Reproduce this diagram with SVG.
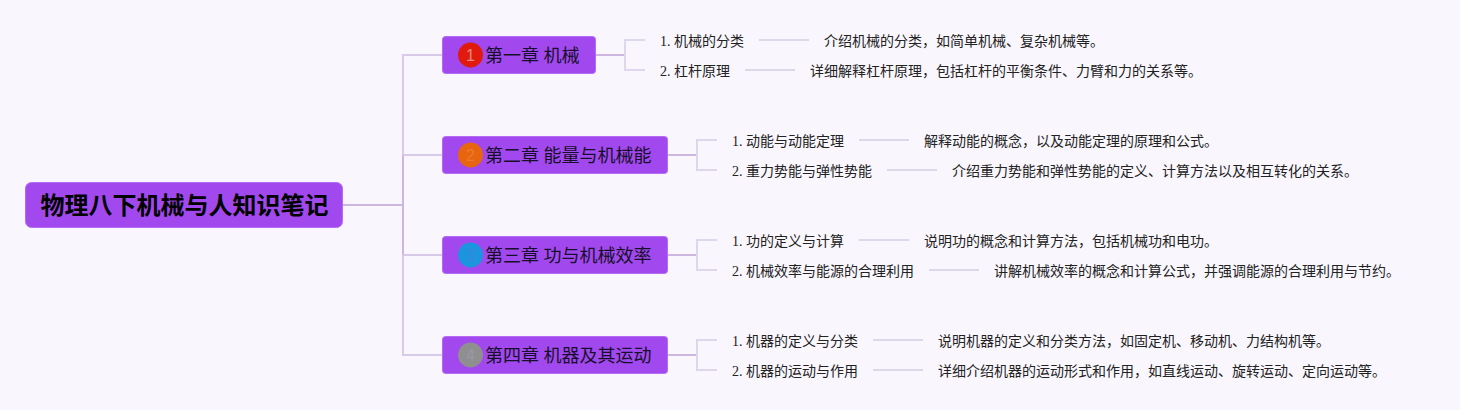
<svg xmlns="http://www.w3.org/2000/svg" width="1460" height="410" viewBox="0 0 1460 410">
<style>
text{font-family:"Liberation Serif","Noto Sans CJK SC",serif;fill:#111}
.root{fill:#a148ee;stroke:#b56cf3;stroke-width:1}
.t0{font-size:24px;font-weight:bold;fill:#000}
.t1{font-size:18px;fill:#17102a}
.t2{font-size:14px;fill:#222}
.d{font-family:"Liberation Sans","Noto Sans CJK SC",sans-serif;font-size:16px;text-anchor:middle}
.l0{fill:none;stroke:#cdb6e0;stroke-width:2}
.l1{fill:none;stroke:#d8cbe9;stroke-width:2}
.l2{fill:none;stroke:#ddd6ec;stroke-width:2}
.l3{fill:none;stroke:#dcd8ea;stroke-width:2}
</style>
<rect width="1460" height="410" fill="#f9f6fd"/>
<g id="connectors">
<path class="l1" d="M403 155V55H443M403 155H443M403 255H443M403 255V355H443"/>
<path class="l0" d="M343 205H403M403 155V255"/>
<path class="l0" d="M595 55H625M667 155H697M667 255H697M667 355H697"/>
<path class="l2" d="M645 40H625V70H645M717 140H697V170H717M717 240H697V270H717M717 340H697V370H717"/>
<path class="l3" d="M759 40H809M745 70H795M859 140H909M887 170H937M859 240H909M929 270H979M873 340H923M873 370H923"/>
</g>
<g id="root"><rect class="root" x="25.500" y="182.500" width="317" height="45" rx="6"/><text class="t0" x="40.500" y="214">物理八下机械与人知识笔记</text></g>
<g id="ch1"><rect class="root" x="442.500" y="36.500" width="153" height="37" rx="3"/><circle cx="470.500" cy="55" r="12.500" fill="#e01a0c"/><text class="d" x="470.500" y="61" style="fill:#ee8a80">1</text><text class="t1" x="485" y="62">第一章 机械</text></g>
<g id="ch2"><rect class="root" x="442.500" y="136.500" width="225" height="37" rx="3"/><circle cx="470.500" cy="155" r="12.500" fill="#e8650f"/><text class="d" x="470.500" y="161" style="fill:#ea7a30">2</text><text class="t1" x="485" y="162">第二章 能量与机械能</text></g>
<g id="ch3"><rect class="root" x="442.500" y="236.500" width="225" height="37" rx="3"/><circle cx="470.500" cy="255" r="12.500" fill="#1a95de"/><text class="d" x="470.500" y="261" style="fill:#3a86dc">3</text><text class="t1" x="485" y="262">第三章 功与机械效率</text></g>
<g id="ch4"><rect class="root" x="442.500" y="336.500" width="225" height="37" rx="3"/><circle cx="470.500" cy="355" r="12.500" fill="#8f8f8f"/><text class="d" x="470.500" y="361" style="fill:#9c96a8">4</text><text class="t1" x="485" y="362">第四章 机器及其运动</text></g>
<g id="n1a"><text class="t2" x="660" y="46">1. 机械的分类</text></g>
<g id="n1ad"><text class="t2" x="824" y="46">介绍机械的分类，如简单机械、复杂机械等。</text></g>
<g id="n1b"><text class="t2" x="660" y="76">2. 杠杆原理</text></g>
<g id="n1bd"><text class="t2" x="810" y="76">详细解释杠杆原理，包括杠杆的平衡条件、力臂和力的关系等。</text></g>
<g id="n2a"><text class="t2" x="732" y="146">1. 动能与动能定理</text></g>
<g id="n2ad"><text class="t2" x="924" y="146">解释动能的概念，以及动能定理的原理和公式。</text></g>
<g id="n2b"><text class="t2" x="732" y="176">2. 重力势能与弹性势能</text></g>
<g id="n2bd"><text class="t2" x="952" y="176">介绍重力势能和弹性势能的定义、计算方法以及相互转化的关系。</text></g>
<g id="n3a"><text class="t2" x="732" y="246">1. 功的定义与计算</text></g>
<g id="n3ad"><text class="t2" x="924" y="246">说明功的概念和计算方法，包括机械功和电功。</text></g>
<g id="n3b"><text class="t2" x="732" y="276">2. 机械效率与能源的合理利用</text></g>
<g id="n3bd"><text class="t2" x="994" y="276">讲解机械效率的概念和计算公式，并强调能源的合理利用与节约。</text></g>
<g id="n4a"><text class="t2" x="732" y="346">1. 机器的定义与分类</text></g>
<g id="n4ad"><text class="t2" x="938" y="346">说明机器的定义和分类方法，如固定机、移动机、力结构机等。</text></g>
<g id="n4b"><text class="t2" x="732" y="376">2. 机器的运动与作用</text></g>
<g id="n4bd"><text class="t2" x="938" y="376">详细介绍机器的运动形式和作用，如直线运动、旋转运动、定向运动等。</text></g>
</svg>
